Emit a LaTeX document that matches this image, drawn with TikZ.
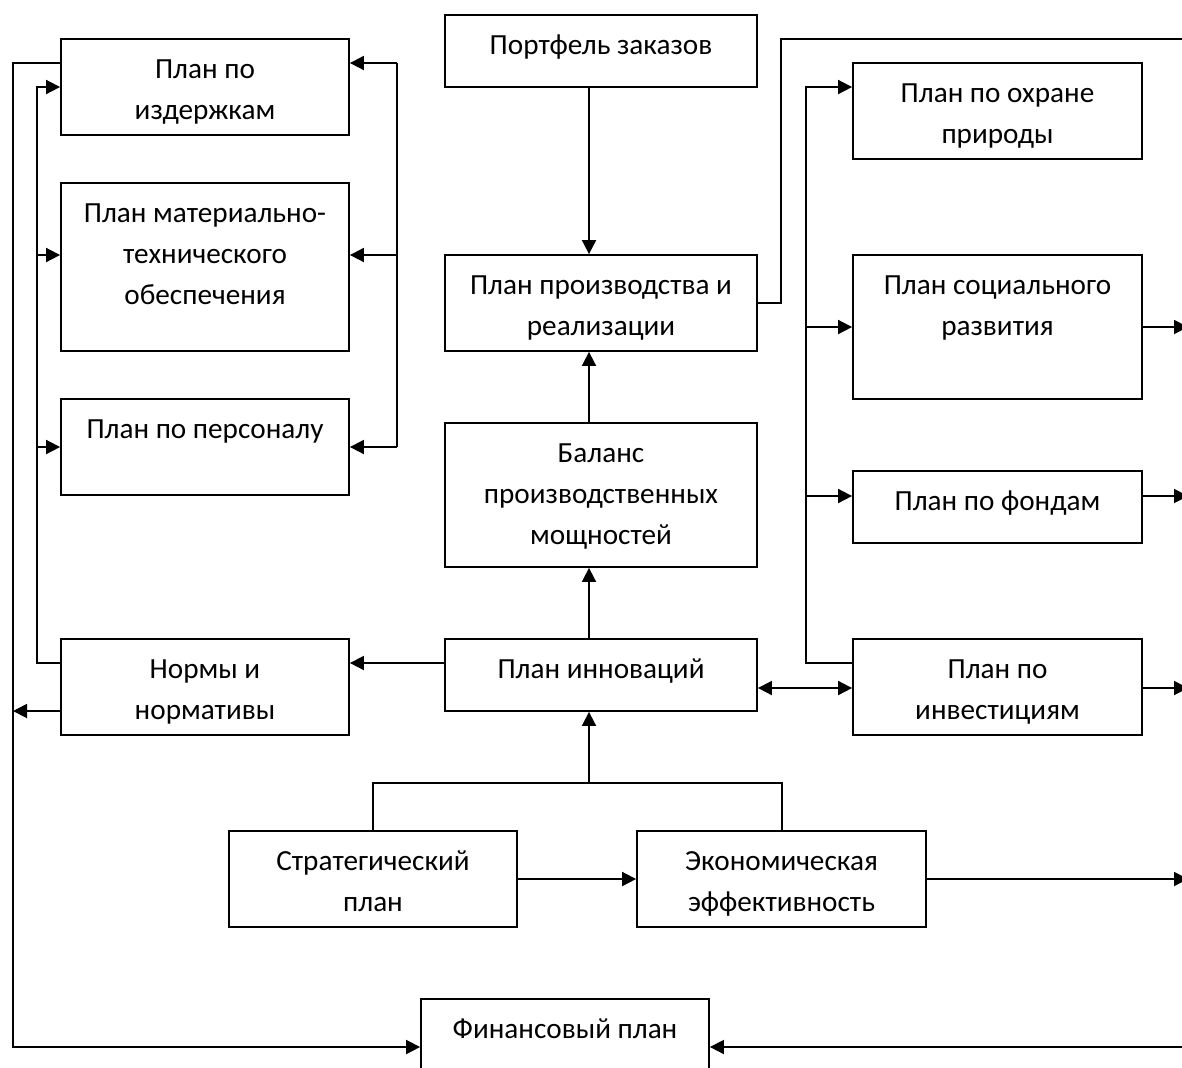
\documentclass[tikz,border=0pt]{standalone}
\usepackage{fontspec}
\setmainfont{Carlito}
\usetikzlibrary{arrows.meta,fit,calc}

% A framed plan: name, corner x1 y1, corner x2 y2, text (top-aligned)
\newcommand\planbox[6]{%
  \node[plan, fit={(#2,#3) (#4,#5)}] (#1) {};
  \node[plantext] (#1-t) at (#1.north) {\rule{0pt}{19.75pt}#6};
}

\begin{document}
\begin{tikzpicture}[x=0.5pt,y=-0.5pt,
  plan/.style={draw=black, line width=0.9pt, fill=white, inner sep=0pt},
  plantext/.style={anchor=north, inner sep=0pt, align=center,
    font=\fontsize{14.6pt}{20.5pt}\selectfont},
  tip/.tip={Triangle[length=7pt,width=7pt]},
  wire/.style={line width=0.9pt, line join=miter},
  link/.style={wire, -tip},
  twoway/.style={wire, tip-tip}]

\path[use as bounding box, fill=white] (0,0) rectangle (1182,1067);

% plans
\planbox{izd}{61}{39}{349}{135}{План по\\издержкам}
\planbox{mat}{61}{183}{349}{351}{План материально-\\технического\\обеспечения}
\planbox{pers}{61}{399}{349}{495}{План по персоналу}
\planbox{norm}{61}{639}{349}{735}{Нормы и\\нормативы}
\planbox{port}{445}{15}{757}{87}{Портфель заказов}
\planbox{proizv}{445}{255}{757}{351}{План производства и\\реализации}
\planbox{bal}{445}{423}{757}{567}{Баланс\\производственных\\мощностей}
\planbox{innov}{445}{639}{757}{711}{План инноваций}
\planbox{ohr}{853}{63}{1142}{159}{План по охране\\природы}
\planbox{soc}{853}{255}{1142}{399}{План социального\\развития}
\planbox{fond}{853}{471}{1142}{543}{План по фондам}
\planbox{inv}{853}{639}{1142}{735}{План по\\инвестициям}
\planbox{strat}{229}{831}{517}{927}{Стратегический\\план}
\planbox{econ}{637}{831}{926}{927}{Экономическая\\эффективность}
\planbox{fin}{421}{999}{709}{1090}{Финансовый план}

% vertical buses and levels
\coordinate (cx) at (589,0);
\coordinate (busA) at (13,0);
\coordinate (busB) at (37,0);
\coordinate (busC) at (397,0);
\coordinate (busE) at (781,0);
\coordinate (busD) at (806,0);
\coordinate (edge) at (1188,0);
\foreach \h in {39,63,87,255,303,327,447,496,663,688,711,879,1047}
  \coordinate (h\h) at (0,\h);

% central column
\draw[link] (port.south -| cx) -- (proizv.north -| cx);
\draw[link] (bal.north -| cx) -- (proizv.south -| cx);
\draw[link] (innov.north -| cx) -- (bal.south -| cx);

% strategic plan and efficiency feed the innovation plan
\coordinate (forkL) at (373,783);
\coordinate (forkR) at (782,783);
\coordinate (fork) at (589,783);
\draw[wire] (strat.north -| forkL) -- (forkL) -- (forkR) -- (econ.north -| forkR);
\draw[link] (fork) -- (innov.south -| fork);
\draw[link] (strat.east |- h879) -- (econ.west |- h879);
\draw[link] (econ.east |- h879) -- (edge |- h879);

% innovation plan links
\draw[link] (innov.west |- h663) -- (norm.east |- h663);
\draw[twoway] (innov.east |- h688) -- (inv.west |- h688);

% right-hand group
\draw[link] (inv.west |- h663) -- (busD |- h663) -- (busD |- h87) -- (ohr.west |- h87);
\draw[link] (busD |- h327) -- (soc.west |- h327);
\draw[link] (busD |- h496) -- (fond.west |- h496);
\draw[link] (soc.east |- h327) -- (edge |- h327);
\draw[link] (fond.east |- h496) -- (edge |- h496);
\draw[link] (inv.east |- h688) -- (edge |- h688);
\draw[wire] (proizv.east |- h303) -- (busE |- h303) -- (busE |- h39) -- (edge |- h39);

% financial plan
\draw[link] (edge |- h1047) -- (fin.east |- h1047);
\draw[link] (izd.west |- h63) -- (busA |- h63) -- (busA |- h1047) -- (fin.west |- h1047);
\draw[link] (norm.west |- h711) -- (busA |- h711);

% norms feed the left-hand plans
\draw[link] (norm.west |- h663) -- (busB |- h663) -- (busB |- h87) -- (izd.west |- h87);
\draw[link] (busB |- h255) -- (mat.west |- h255);
\draw[link] (busB |- h447) -- (pers.west |- h447);

% right-hand feed of the left-hand plans
\draw[wire] (busC |- h63) -- (busC |- h447);
\draw[link] (busC |- h63) -- (izd.east |- h63);
\draw[link] (busC |- h255) -- (mat.east |- h255);
\draw[link] (busC |- h447) -- (pers.east |- h447);

\end{tikzpicture}
\end{document}
